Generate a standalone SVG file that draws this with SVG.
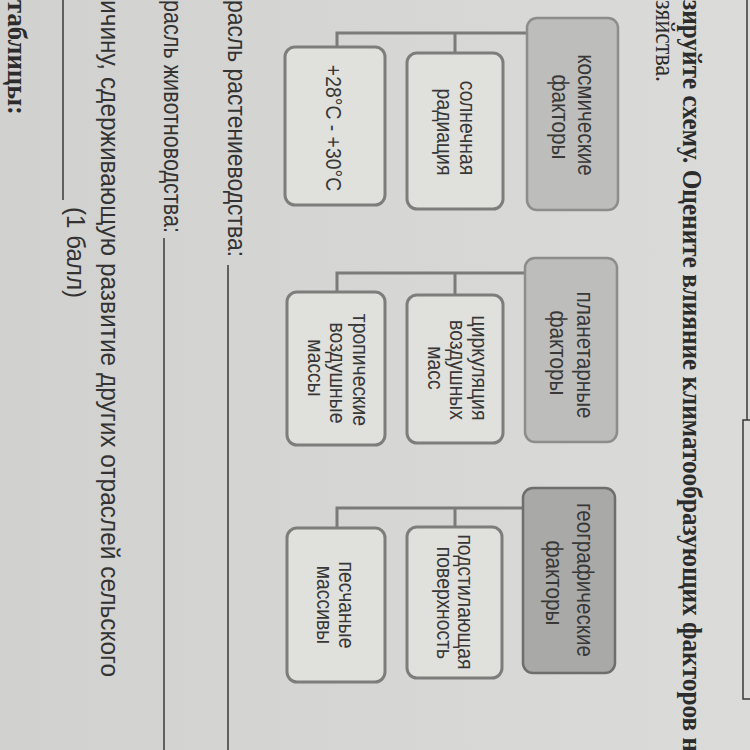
<svg xmlns="http://www.w3.org/2000/svg" width="750" height="750" viewBox="0 0 750 750">
<defs>
<linearGradient id="paper" x1="0" y1="0" x2="1" y2="0">
<stop offset="0" stop-color="#d1d1cf"/>
<stop offset="1" stop-color="#dbdbd9"/>
</linearGradient>
<style>
.box{fill:#e0e0dd;stroke:#7d7d7b;stroke-width:3}
.p1{fill:#bdbdbb;stroke:#8d8d8b;stroke-width:2.5}
.p3{fill:#a9a9a7;stroke:#6e6e6c;stroke-width:2.5}
.bt{font-family:"Liberation Sans",Arial,sans-serif;font-size:22px;fill:#383838;text-anchor:middle}
.pt{font-size:23.5px}
.conn{stroke:#7b7b79;stroke-width:3;fill:none}
.body{font-family:"Liberation Sans",Arial,sans-serif;font-size:25px;fill:#333333}
.ser{font-family:"Liberation Serif","Times New Roman",serif;font-size:27px;fill:#2c2c2c}
.rule{stroke:#3a3a3a;stroke-width:1.5;fill:none}
</style>
</defs>
<rect width="750" height="750" fill="url(#paper)"/>

<g id="page-text">
<text class="ser" font-weight="bold" transform="translate(683,0) rotate(90)" textLength="752" lengthAdjust="spacingAndGlyphs">зируйте схему. Оцените влияние климатообразующих факторов н</text>
<text class="ser" transform="translate(656,0) rotate(90)" textLength="82" lengthAdjust="spacingAndGlyphs">зяйства.</text>
<text class="body" transform="translate(228,0) rotate(90)" textLength="257" lengthAdjust="spacingAndGlyphs">расль растениеводства:</text>
<text class="body" transform="translate(164,0) rotate(90)" textLength="233" lengthAdjust="spacingAndGlyphs">расль животноводства:</text>
<text class="body" transform="translate(101,0) rotate(90)" textLength="677" lengthAdjust="spacingAndGlyphs">ичину, сдерживающую развитие других отраслей сельского</text>
<text class="body" transform="translate(67,207) rotate(90)" textLength="91" lengthAdjust="spacingAndGlyphs">(1 балл)</text>
<text class="ser" font-weight="bold" transform="translate(8,0) rotate(90)" textLength="115" lengthAdjust="spacingAndGlyphs">таблицы:</text>
</g>

<g id="rules">
<line class="rule" x1="228" y1="265" x2="228" y2="750"/>
<line class="rule" x1="164" y1="238" x2="164" y2="750"/>
<line class="rule" x1="63" y1="0" x2="63" y2="200"/>
<line class="rule" x1="747" y1="0" x2="747" y2="420"/>
<path class="rule" d="M760,420 H743 V699 H760"/>
</g>

<g id="connectors">
<path class="conn" d="M527,33 H337 V47 M455,33 V53"/>
<path class="conn" d="M525,273 H337 V292 M455,273 V295"/>
<path class="conn" d="M523,508 H337 V528 M455,508 V527"/>
</g>

<g id="cosmic">
<rect class="p1" x="527" y="18" width="91" height="192" rx="10"/>
<text class="bt pt" transform="translate(578,115) rotate(90) scale(0.88,1)">космические</text>
<text class="bt pt" transform="translate(552,117) rotate(90) scale(0.88,1)">факторы</text>
</g>
<g id="solar">
<rect class="box" x="407" y="53" width="96" height="156" rx="10"/>
<text class="bt" transform="translate(460,128) rotate(90) scale(0.88,1)">солнечная</text>
<text class="bt" transform="translate(437,132) rotate(90) scale(0.88,1)">радиация</text>
</g>
<g id="temp">
<rect class="box" x="285" y="47" width="100" height="158" rx="10"/>
<text class="bt" transform="translate(326,128) rotate(90) scale(0.88,1)">+28°C - +30°C</text>
</g>

<g id="planetary">
<rect class="p1" x="525" y="258" width="92" height="184" rx="10"/>
<text class="bt pt" transform="translate(577,355) rotate(90) scale(0.88,1)">планетарные</text>
<text class="bt pt" transform="translate(550,353) rotate(90) scale(0.88,1)">факторы</text>
</g>
<g id="circulation">
<rect class="box" x="407" y="295" width="96" height="148" rx="10"/>
<text class="bt" transform="translate(472,368) rotate(90) scale(0.88,1)">циркуляция</text>
<text class="bt" transform="translate(450,370) rotate(90) scale(0.88,1)">воздушных</text>
<text class="bt" transform="translate(428,368) rotate(90) scale(0.88,1)">масс</text>
</g>
<g id="tropical">
<rect class="box" x="287" y="292" width="98" height="153" rx="10"/>
<text class="bt" transform="translate(353,370) rotate(90) scale(0.88,1)">тропические</text>
<text class="bt" transform="translate(330,373) rotate(90) scale(0.88,1)">воздушные</text>
<text class="bt" transform="translate(308,368) rotate(90) scale(0.88,1)">массы</text>
</g>

<g id="geographic">
<rect class="p3" x="523" y="488" width="92" height="185" rx="10"/>
<text class="bt pt" transform="translate(577,580) rotate(90) scale(0.88,1)">географические</text>
<text class="bt pt" transform="translate(546,583) rotate(90) scale(0.88,1)">факторы</text>
</g>
<g id="surface">
<rect class="box" x="407" y="527" width="95" height="151" rx="10"/>
<text class="bt" transform="translate(458,602) rotate(90) scale(0.88,1)">подстилающая</text>
<text class="bt" transform="translate(437,603) rotate(90) scale(0.88,1)">поверхность</text>
</g>
<g id="sand">
<rect class="box" x="287" y="528" width="98" height="154" rx="10"/>
<text class="bt" transform="translate(339,605) rotate(90) scale(0.88,1)">песчаные</text>
<text class="bt" transform="translate(317,605) rotate(90) scale(0.88,1)">массивы</text>
</g>
</svg>
